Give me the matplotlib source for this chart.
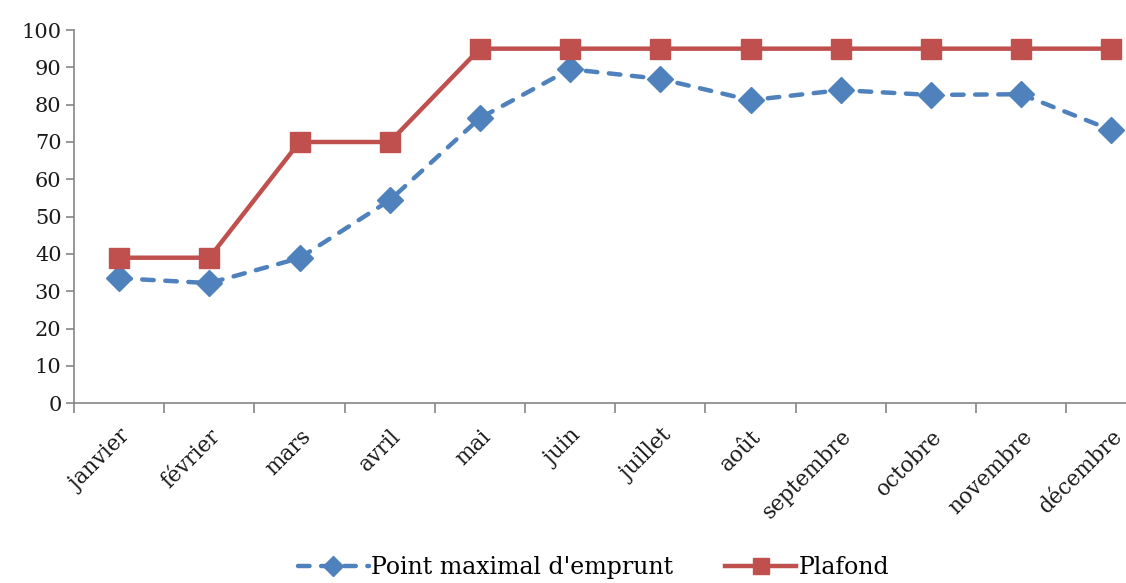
import matplotlib
matplotlib.use("Agg")
import matplotlib.pyplot as plt

months = ["janvier", "février", "mars", "avril", "mai", "juin", "juillet",
          "août", "septembre", "octobre", "novembre", "décembre"]
point_max = [33.5, 32.2, 38.9, 54.4, 76.4, 89.5, 86.9, 81.2, 83.9, 82.6, 82.8, 73.2]
plafond = [39, 39, 70, 70, 95, 95, 95, 95, 95, 95, 95, 95]
yticks = list(range(0, 101, 10))

blue = "#4F81BD"
red = "#C0504D"
gray = "#868686"

plt.rcParams['font.family'] = ['DejaVu Serif']

fig = plt.figure(figsize=(11.26, 5.83), dpi=100)
ax = fig.add_axes([74/1126, (583-403.3)/583, 1082.4/1126, (403.3-30)/583])

x = list(range(len(months)))
ax.plot(x, point_max, color=blue, lw=3.2, ls=(0, (2.6, 2.6)), dash_capstyle='round',
        marker='D', markersize=13, markeredgecolor=blue,
        label="Point maximal d'emprunt", zorder=3)
ax.plot(x, plafond, color=red, lw=3.2, marker='s', markersize=15,
        markeredgecolor=red, label="Plafond", zorder=4)

ax.set_xlim(-0.5, len(months) - 0.5)
ax.set_ylim(0, 100)
ax.set_yticks(yticks)
ax.set_yticklabels([str(v) for v in yticks], fontsize=15, color="#1a1a1a")
ax.set_xticks([i - 0.5 for i in range(len(months) + 1)])
ax.set_xticklabels([])
ax.set_xticks(x, minor=True)
ax.set_xticklabels(months, minor=True, rotation=45, ha='right',
                   rotation_mode='anchor', fontsize=15.5, color="#1a1a1a")
ax.tick_params(axis='x', which='minor', length=0, pad=16)
ax.tick_params(axis='x', which='major', length=7, width=1.2, color=gray, direction='out')
ax.tick_params(axis='y', length=6, width=1.2, color=gray, direction='out', pad=3)

for s in ['top', 'right']:
    ax.spines[s].set_visible(False)
for s in ['left', 'bottom']:
    ax.spines[s].set_color(gray)
    ax.spines[s].set_linewidth(1.2)

fig.legend(loc='center', bbox_to_anchor=(0.527, 0.026), ncol=2, frameon=False,
           fontsize=17, handlelength=3.0, columnspacing=2.2, handletextpad=0.1,
           markerscale=0.75)

fig.savefig("out.png", dpi=100)
